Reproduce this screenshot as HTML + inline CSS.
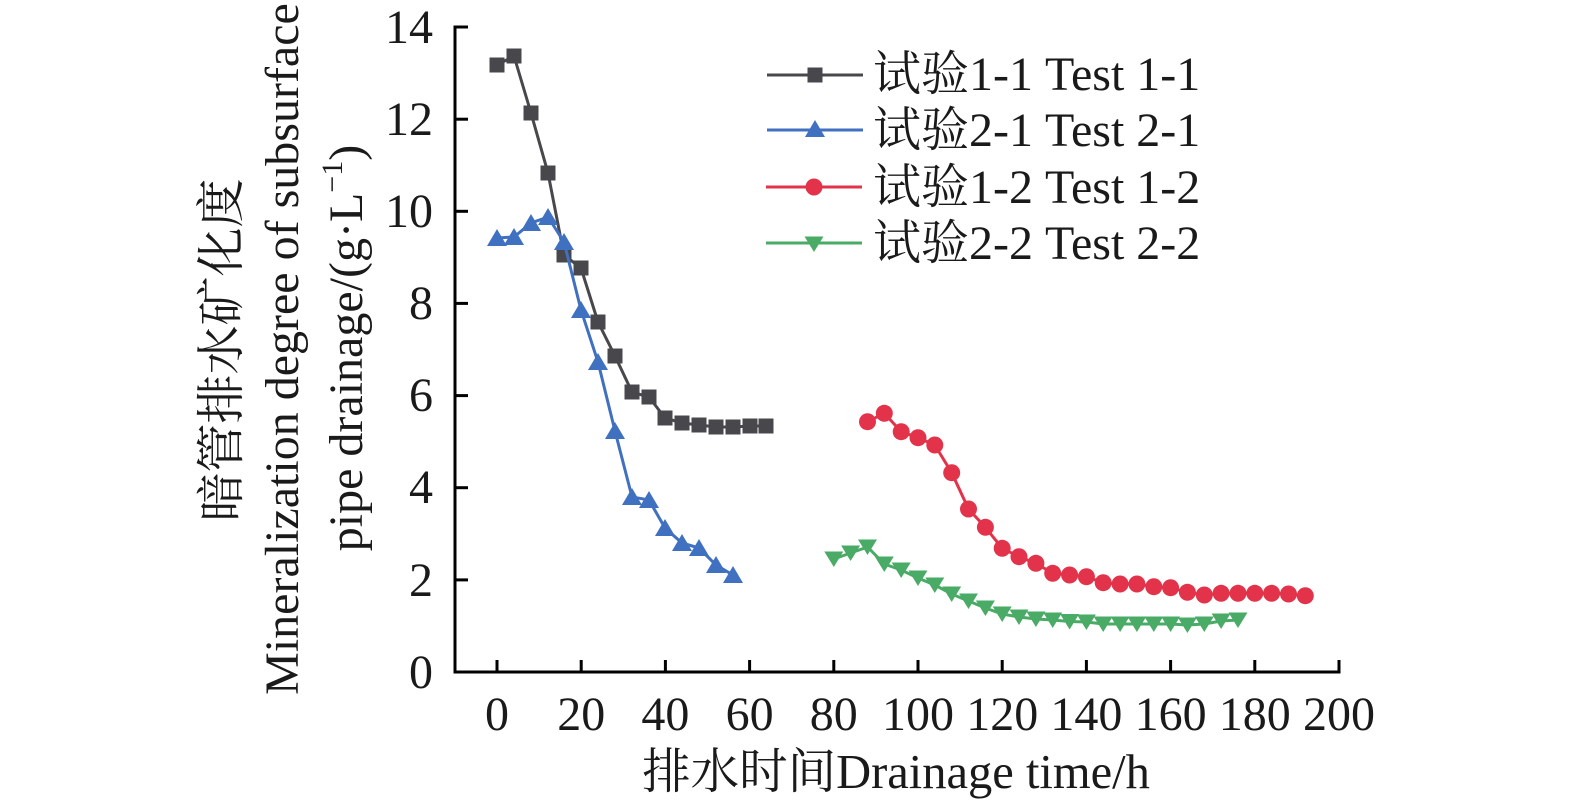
<!DOCTYPE html>
<html><head><meta charset="utf-8"><style>
html,body{margin:0;padding:0;background:#fff;}
svg{display:block;}
text{font-family:"Liberation Serif","Noto Serif CJK SC",serif;fill:#1a1a1a;}
</style></head><body>
<svg width="1575" height="806" viewBox="0 0 1575 806" xmlns="http://www.w3.org/2000/svg">
<defs>
<rect id="sq" x="-7.5" y="-7.5" width="15" height="15" fill="#48484c"/>
<polygon id="tu" points="0,-9 -10,8 10,8" fill="#4070c0"/>
<circle id="ci" r="8.5" fill="#e2334a"/>
<polygon id="td" points="-9.5,-7.5 9.5,-7.5 0,8" fill="#4aab66"/>
</defs>

<!-- axes -->
<g stroke="#000" stroke-width="3" fill="none">
<line x1="455" y1="25.5" x2="455" y2="673.5"/>
<line x1="453.5" y1="672" x2="1340.5" y2="672"/>
<line x1="455" y1="27" x2="468" y2="27"/>
<line x1="455" y1="119.2" x2="468" y2="119.2"/>
<line x1="455" y1="211.3" x2="468" y2="211.3"/>
<line x1="455" y1="303.4" x2="468" y2="303.4"/>
<line x1="455" y1="395.6" x2="468" y2="395.6"/>
<line x1="455" y1="487.7" x2="468" y2="487.7"/>
<line x1="455" y1="579.9" x2="468" y2="579.9"/>
<line x1="497" y1="672" x2="497" y2="660"/>
<line x1="581.2" y1="672" x2="581.2" y2="660"/>
<line x1="665.4" y1="672" x2="665.4" y2="660"/>
<line x1="749.6" y1="672" x2="749.6" y2="660"/>
<line x1="833.8" y1="672" x2="833.8" y2="660"/>
<line x1="918" y1="672" x2="918" y2="660"/>
<line x1="1002.2" y1="672" x2="1002.2" y2="660"/>
<line x1="1086.4" y1="672" x2="1086.4" y2="660"/>
<line x1="1170.6" y1="672" x2="1170.6" y2="660"/>
<line x1="1254.8" y1="672" x2="1254.8" y2="660"/>
<line x1="1339" y1="672" x2="1339" y2="660"/>
</g>

<!-- y tick labels -->
<g font-size="48" text-anchor="end">
<text x="433" y="43">14</text>
<text x="433" y="135">12</text>
<text x="433" y="227">10</text>
<text x="433" y="319">8</text>
<text x="433" y="411">6</text>
<text x="433" y="503">4</text>
<text x="433" y="596">2</text>
<text x="433" y="688">0</text>
</g>
<!-- x tick labels -->
<g font-size="48" text-anchor="middle">
<text x="497" y="730">0</text>
<text x="581.2" y="730">20</text>
<text x="665.4" y="730">40</text>
<text x="749.6" y="730">60</text>
<text x="833.8" y="730">80</text>
<text x="918" y="730">100</text>
<text x="1002.2" y="730">120</text>
<text x="1086.4" y="730">140</text>
<text x="1170.6" y="730">160</text>
<text x="1254.8" y="730">180</text>
<text x="1339" y="730">200</text>
</g>

<!-- axis titles -->
<text x="896" y="788" font-size="48.5" text-anchor="middle">排水时间Drainage time/h</text>
<g font-size="48" text-anchor="middle">
<text transform="translate(238,350) rotate(-90)" font-size="49">暗管排水矿化度</text>
<text transform="translate(298,349) rotate(-90)">Mineralization degree of subsurface</text>
<text transform="translate(362,348) rotate(-90)">pipe drainage/(g·L<tspan font-size="30" dy="-20">−1</tspan><tspan dy="20">)</tspan></text>
</g>

<!-- Test 1-1 -->
<polyline fill="none" stroke="#48484c" stroke-width="3" points="497,65 514,56 531,113 548,173 564,255 581,268 598,322 615,356 632,392 649,397 665,418 682,423 699,425 716,427 733,427 750,426 766,426"/>
<g>
<use href="#sq" x="497" y="65"/><use href="#sq" x="514" y="56"/><use href="#sq" x="531" y="113"/><use href="#sq" x="548" y="173"/><use href="#sq" x="564" y="255"/><use href="#sq" x="581" y="268"/><use href="#sq" x="598" y="322"/><use href="#sq" x="615" y="356"/><use href="#sq" x="632" y="392"/><use href="#sq" x="649" y="397"/><use href="#sq" x="665" y="418"/><use href="#sq" x="682" y="423"/><use href="#sq" x="699" y="425"/><use href="#sq" x="716" y="427"/><use href="#sq" x="733" y="427"/><use href="#sq" x="750" y="426"/><use href="#sq" x="766" y="426"/>
</g>

<!-- Test 2-1 -->
<polyline fill="none" stroke="#4070c0" stroke-width="3" points="497,238 514,237 531,223 548,217 564,242 581,310 598,362 615,431 632,497 649,500 665,528 682,543 699,548 716,565 733,575"/>
<g>
<use href="#tu" x="497" y="238"/><use href="#tu" x="514" y="237"/><use href="#tu" x="531" y="223"/><use href="#tu" x="548" y="217"/><use href="#tu" x="564" y="242"/><use href="#tu" x="581" y="310"/><use href="#tu" x="598" y="362"/><use href="#tu" x="615" y="431"/><use href="#tu" x="632" y="497"/><use href="#tu" x="649" y="500"/><use href="#tu" x="665" y="528"/><use href="#tu" x="682" y="543"/><use href="#tu" x="699" y="548"/><use href="#tu" x="716" y="565"/><use href="#tu" x="733" y="575"/>
</g>

<!-- Test 1-2 -->
<polyline fill="none" stroke="#e2334a" stroke-width="3" points="867.5,421.7 884.3,413.3 901.2,431.7 918,437.7 934.8,445 951.7,472.7 968.5,509 985.4,527.3 1002.2,548.3 1019,556.7 1035.9,563.3 1052.7,573.3 1069.6,575 1086.4,576.7 1103.2,582.7 1120.1,584 1136.9,584 1153.8,586.7 1170.6,587.7 1187.4,592.3 1204.3,595 1221.1,593.3 1238,593.3 1254.8,593.3 1271.6,593.3 1288.5,594 1305.3,595.7"/>
<g>
<use href="#ci" x="867.5" y="421.7"/><use href="#ci" x="884.3" y="413.3"/><use href="#ci" x="901.2" y="431.7"/><use href="#ci" x="918" y="437.7"/><use href="#ci" x="934.8" y="445"/><use href="#ci" x="951.7" y="472.7"/><use href="#ci" x="968.5" y="509"/><use href="#ci" x="985.4" y="527.3"/><use href="#ci" x="1002.2" y="548.3"/><use href="#ci" x="1019" y="556.7"/><use href="#ci" x="1035.9" y="563.3"/><use href="#ci" x="1052.7" y="573.3"/><use href="#ci" x="1069.6" y="575"/><use href="#ci" x="1086.4" y="576.7"/><use href="#ci" x="1103.2" y="582.7"/><use href="#ci" x="1120.1" y="584"/><use href="#ci" x="1136.9" y="584"/><use href="#ci" x="1153.8" y="586.7"/><use href="#ci" x="1170.6" y="587.7"/><use href="#ci" x="1187.4" y="592.3"/><use href="#ci" x="1204.3" y="595"/><use href="#ci" x="1221.1" y="593.3"/><use href="#ci" x="1238" y="593.3"/><use href="#ci" x="1254.8" y="593.3"/><use href="#ci" x="1271.6" y="593.3"/><use href="#ci" x="1288.5" y="594"/><use href="#ci" x="1305.3" y="595.7"/>
</g>

<!-- Test 2-2 -->
<polyline fill="none" stroke="#4aab66" stroke-width="3" points="833.8,559 850.6,553 867.5,547 884.3,564 901.2,570 918,578 934.8,585 951.7,594 968.5,601 985.4,608 1002.2,614 1019,617 1035.9,619 1052.7,620 1069.6,621.5 1086.4,622 1103.2,624 1120.1,624 1136.9,624 1153.8,624 1170.6,624 1187.4,625 1204.3,624 1221.1,621 1238,620"/>
<g>
<use href="#td" x="833.8" y="559"/><use href="#td" x="850.6" y="553"/><use href="#td" x="867.5" y="547"/><use href="#td" x="884.3" y="564"/><use href="#td" x="901.2" y="570"/><use href="#td" x="918" y="578"/><use href="#td" x="934.8" y="585"/><use href="#td" x="951.7" y="594"/><use href="#td" x="968.5" y="601"/><use href="#td" x="985.4" y="608"/><use href="#td" x="1002.2" y="614"/><use href="#td" x="1019" y="617"/><use href="#td" x="1035.9" y="619"/><use href="#td" x="1052.7" y="620"/><use href="#td" x="1069.6" y="621.5"/><use href="#td" x="1086.4" y="622"/><use href="#td" x="1103.2" y="624"/><use href="#td" x="1120.1" y="624"/><use href="#td" x="1136.9" y="624"/><use href="#td" x="1153.8" y="624"/><use href="#td" x="1170.6" y="624"/><use href="#td" x="1187.4" y="625"/><use href="#td" x="1204.3" y="624"/><use href="#td" x="1221.1" y="621"/><use href="#td" x="1238" y="620"/>
</g>

<!-- legend -->
<g stroke-width="3">
<line x1="767" y1="75" x2="863" y2="75" stroke="#48484c"/>
<line x1="767" y1="130" x2="863" y2="130" stroke="#4070c0"/>
<line x1="766" y1="187" x2="862" y2="187" stroke="#e2334a"/>
<line x1="766" y1="243" x2="862" y2="243" stroke="#4aab66"/>
</g>
<use href="#sq" x="815" y="75"/>
<use href="#tu" x="815" y="129"/>
<use href="#ci" x="814" y="187"/>
<use href="#td" x="814" y="244"/>
<g font-size="48">
<text x="873" y="90">试验1-1 Test 1-1</text>
<text x="873" y="146">试验2-1 Test 2-1</text>
<text x="873" y="203">试验1-2 Test 1-2</text>
<text x="873" y="259">试验2-2 Test 2-2</text>
</g>
</svg>
</body></html>
